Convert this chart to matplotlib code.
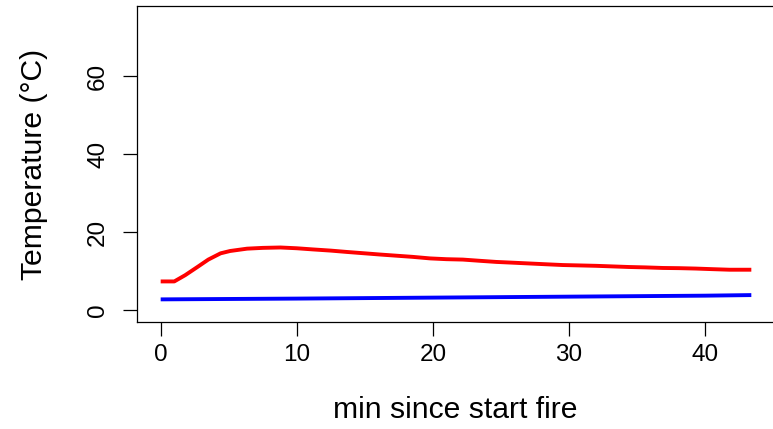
import numpy as np
import matplotlib.pyplot as plt

plt.rcParams['font.family'] = ['Liberation Sans', 'DejaVu Sans']

# inside / outside temperature
t_inside = [0, 1.0, 1.8, 2.7, 3.5, 4.4, 5.1, 6.35, 7.5, 8.8, 10.0, 11.2, 12.5, 13.7, 15.0, 16.1,
            17.3, 18.5, 19.8, 21.0, 22.2, 23.4, 24.65, 25.9, 27.1, 28.3, 29.55, 30.8, 32.0,
            33.2, 34.4, 35.6, 36.9, 38.1, 39.3, 40.5, 41.8, 43.4]
temp_inside = [7.4, 7.4, 9.0, 11.1, 13.0, 14.6, 15.2, 15.8, 16.0, 16.1, 15.9, 15.6, 15.3, 14.95,
               14.6, 14.3, 14.0, 13.7, 13.3, 13.1, 13.0, 12.7, 12.4, 12.2, 12.0, 11.8, 11.6,
               11.5, 11.4, 11.25, 11.1, 11.0, 10.85, 10.8, 10.7, 10.55, 10.4, 10.4]

t_outside = [0, 10, 20, 30, 40, 43.4]
temp_outside = [2.8, 3.0, 3.25, 3.5, 3.75, 3.9]

xticks = [0, 10, 20, 30, 40]
yticks = [0, 20, 40, 60]

fig = plt.figure(figsize=(7.73, 4.29), dpi=100)
ax = fig.add_axes([137 / 773, 1 - 322 / 429, 638 / 773, 316 / 429])

ax.plot(t_inside, temp_inside, color='#ff0000', lw=2.8, solid_capstyle='butt')
ax.plot(t_outside, temp_outside, color='#0000ff', lw=2.8, solid_capstyle='butt')

ax.set_xlim(-1.74, 45.14)
ax.set_ylim(-3, 78)
ax.set_xticks(xticks)
ax.set_yticks(yticks)
for s in ax.spines.values():
    s.set_linewidth(0.9)
ax.tick_params(length=10, width=0.9, labelsize=17.5, colors='black')
ax.tick_params(axis='x', pad=6)
ax.tick_params(axis='y', pad=10)
for lab in ax.get_yticklabels():
    lab.set_rotation(90)
    lab.set_va('center')

fig.text(34 / 773, 1 - 164 / 429, 'Temperature (°C)', rotation=90, ha='center', va='center',
         fontsize=21.7)
fig.text(455 / 773, 1 - 410 / 429, 'min since start fire', ha='center', va='center',
         fontsize=21.7)

fig.savefig('out.png', dpi=100)
